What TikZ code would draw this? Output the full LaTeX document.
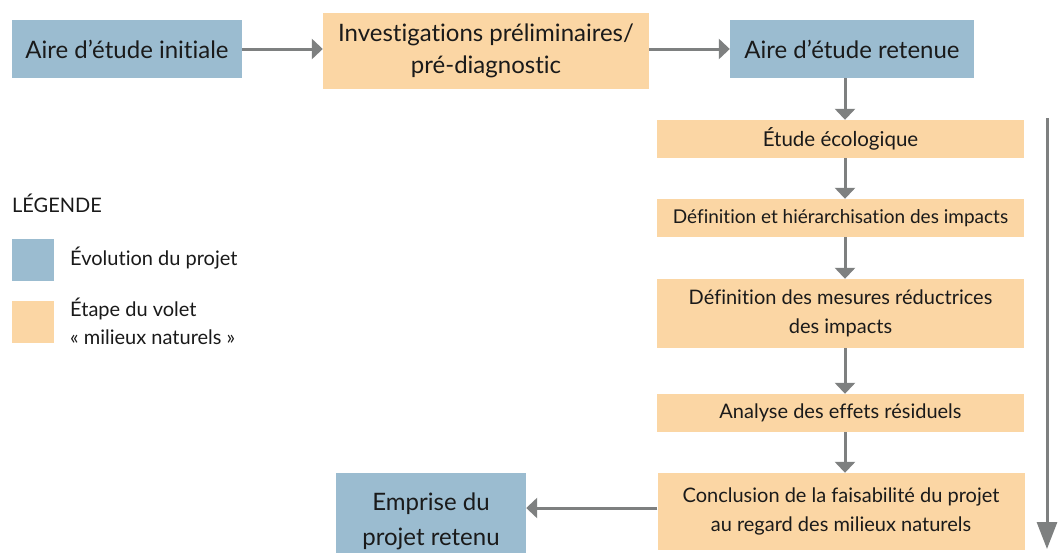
\documentclass[tikz,border=0pt]{standalone}
\usepackage{fontspec}
\setmainfont{Lato}[Ligatures={CommonOff}]
\usetikzlibrary{arrows.meta}
\definecolor{projblue}{HTML}{9BBCD0}
\definecolor{stepor}{HTML}{FBD6A4}
\definecolor{arrgray}{HTML}{7E8080}
\definecolor{txt}{HTML}{1A1A1A}
\tikzset{
  bigtxt/.style={font=\fontsize{24}{32}\selectfont, text=txt, align=center},
  smalltxt/.style={font=\fontsize{20}{29}\selectfont, text=txt, align=center},
  projbox/.style={fill=projblue, draw=none, inner sep=0pt, bigtxt},
  stepbig/.style={fill=stepor, draw=none, inner sep=0pt, bigtxt},
  stepsmall/.style={fill=stepor, draw=none, inner sep=0pt, smalltxt, minimum width=367pt},
  conn/.style={draw=arrgray, line width=3pt, -{Triangle[width=20pt,length=11pt]}},
  bigconn/.style={draw=arrgray, line width=3pt, -{Triangle[width=20pt,length=27pt]}},
  legtxt/.style={font=\fontsize{20}{28}\selectfont, text=txt, anchor=west, align=left, inner sep=0pt}
}
\begin{document}
\begin{tikzpicture}[x=1pt,y=-1pt]
\useasboundingbox (0,0) rectangle (1058,554);
\fill[white] (0,0) rectangle (1058,554);

\node[projbox, minimum width=230pt, minimum height=58pt] (A) at (127,49) {Aire d’étude initiale};
\node[stepbig, minimum width=326pt, minimum height=76pt] (B) at (486,51) {Investigations préliminaires/\\pré-diagnostic};
\node[projbox, minimum width=244pt, minimum height=58pt] (C) at (852,49) {Aire d’étude retenue};

\node[stepsmall, minimum height=38pt, font=\fontsize{20.5}{29}\selectfont] (D) at (840.5,139) {Étude écologique};
\node[stepsmall, minimum height=38pt, font=\fontsize{19}{28}\selectfont] (E) at (840.5,218) {Définition et hiérarchisation des impacts};
\node[stepsmall, minimum height=69pt] (F) at (840.5,313.5) {Définition des mesures réductrices\\des impacts};
\node[stepsmall, minimum height=38pt] (G) at (840.5,413) {Analyse des effets résiduels};
\node[stepsmall, minimum height=77pt] (H) at (841,511.5) {Conclusion de la faisabilité du projet\\au regard des milieux naturels};
\node[projbox, minimum width=190pt, minimum height=80pt] (I) at (431,513) {};
\node[bigtxt, font=\fontsize{24}{35}\selectfont, inner sep=0pt] (Itext) at (431,521) {Emprise du\\projet retenu};

\draw[conn] (A.east) -- (A.east -| B.west);
\draw[conn] (C.west -| B.east) -- (C.west);
\draw[conn] ([xshift=-7pt]C.south) -- ([xshift=-7pt]C.south |- D.north);
\draw[conn] ([xshift=4.5pt]D.south) -- ([xshift=4.5pt]E.north);
\draw[conn] ([xshift=4.5pt]E.south) -- ([xshift=4.5pt]F.north);
\draw[conn] ([xshift=4.5pt]F.south) -- ([xshift=4.5pt]G.north);
\draw[conn] ([xshift=4.5pt]G.south) -- ([xshift=4pt]H.north);
\draw[conn] ([yshift=3.5pt]H.west) -- ([yshift=3.5pt]H.west -| I.east);

\coordinate (ltop) at (1047,118);
\coordinate (lbot) at (1047,549);
\draw[bigconn] (ltop) -- (lbot);

\node[legtxt] (leg) at (12,203) {LÉGENDE};
\node[fill=projblue, minimum width=42pt, minimum height=42pt, inner sep=0pt] (lb) at (33,260) {};
\node[legtxt] (lbt) at (70,258) {Évolution du projet};
\node[fill=stepor, minimum width=42pt, minimum height=42pt, inner sep=0pt] (lo) at (33,322) {};
\node[legtxt] (lot) at (70,321) {Étape du volet\\« milieux naturels »};
\end{tikzpicture}
\end{document}
